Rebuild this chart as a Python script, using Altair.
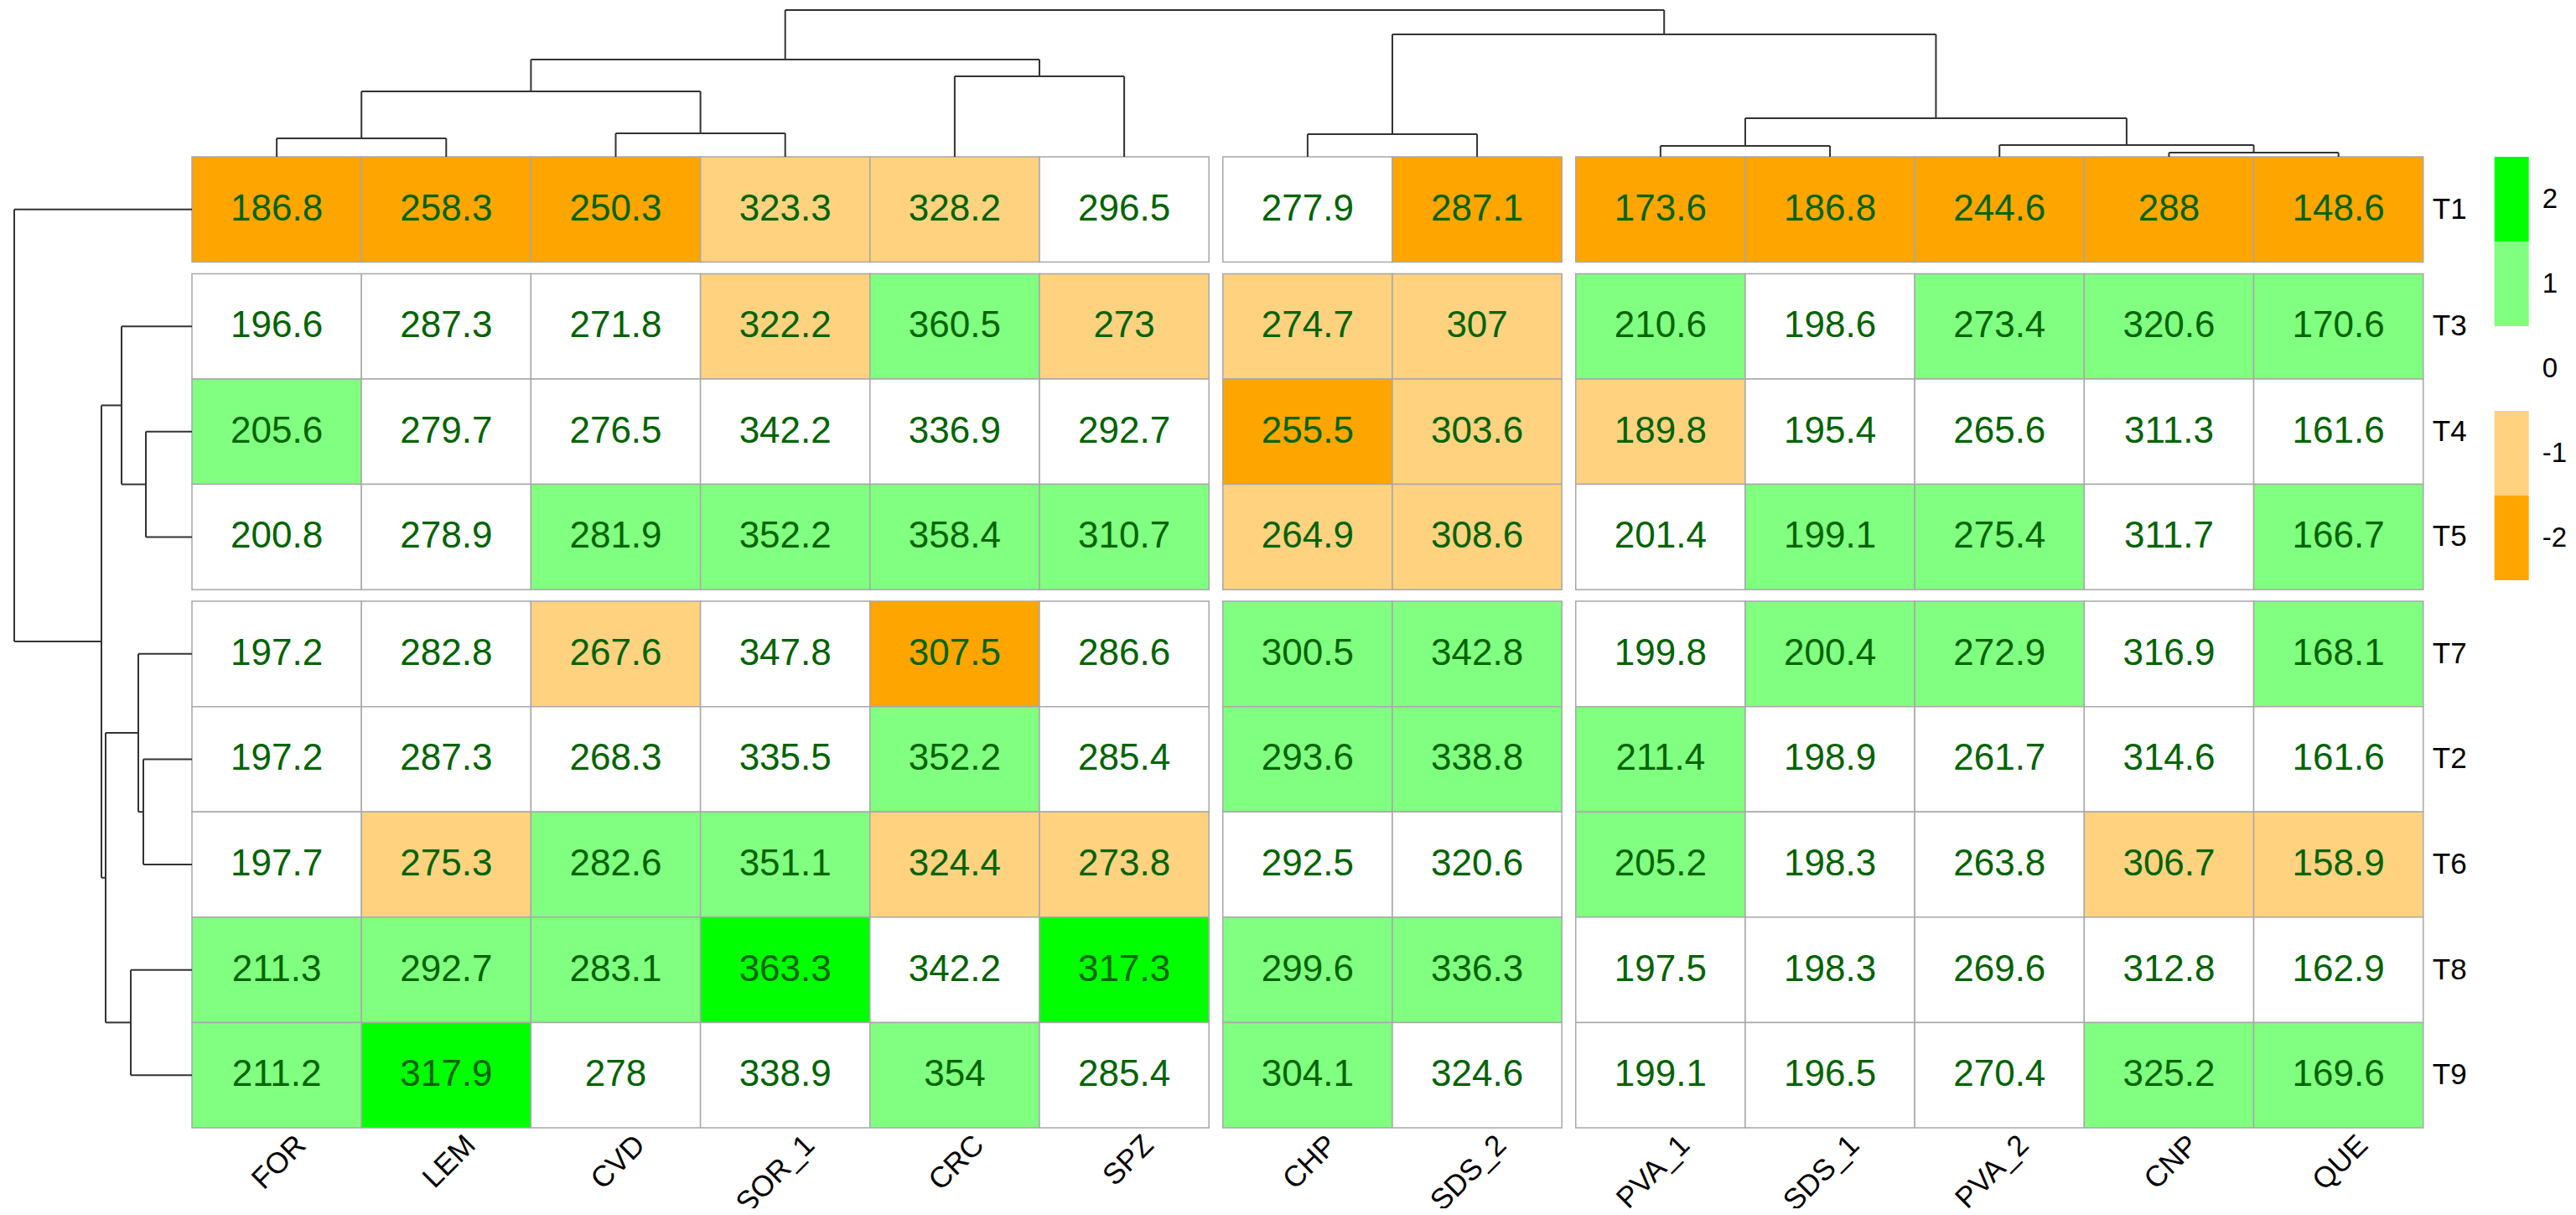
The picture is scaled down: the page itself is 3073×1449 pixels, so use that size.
import altair as alt
import pandas as pd

# ---------------- data ----------------
col_labels = ["FOR", "LEM", "CVD", "SOR_1", "CRC", "SPZ", "CHP", "SDS_2",
              "PVA_1", "SDS_1", "PVA_2", "CNP", "QUE"]
col_groups = [0, 0, 0, 0, 0, 0, 1, 1, 2, 2, 2, 2, 2]
row_labels = ["T1", "T3", "T4", "T5", "T7", "T2", "T6", "T8", "T9"]
row_groups = [0, 1, 1, 1, 2, 2, 2, 2, 2]

values = {
    "T1": [186.8, 258.3, 250.3, 323.3, 328.2, 296.5, 277.9, 287.1, 173.6, 186.8, 244.6, 288, 148.6],
    "T3": [196.6, 287.3, 271.8, 322.2, 360.5, 273, 274.7, 307, 210.6, 198.6, 273.4, 320.6, 170.6],
    "T4": [205.6, 279.7, 276.5, 342.2, 336.9, 292.7, 255.5, 303.6, 189.8, 195.4, 265.6, 311.3, 161.6],
    "T5": [200.8, 278.9, 281.9, 352.2, 358.4, 310.7, 264.9, 308.6, 201.4, 199.1, 275.4, 311.7, 166.7],
    "T7": [197.2, 282.8, 267.6, 347.8, 307.5, 286.6, 300.5, 342.8, 199.8, 200.4, 272.9, 316.9, 168.1],
    "T2": [197.2, 287.3, 268.3, 335.5, 352.2, 285.4, 293.6, 338.8, 211.4, 198.9, 261.7, 314.6, 161.6],
    "T6": [197.7, 275.3, 282.6, 351.1, 324.4, 273.8, 292.5, 320.6, 205.2, 198.3, 263.8, 306.7, 158.9],
    "T8": [211.3, 292.7, 283.1, 363.3, 342.2, 317.3, 299.6, 336.3, 197.5, 198.3, 269.6, 312.8, 162.9],
    "T9": [211.2, 317.9, 278, 338.9, 354, 285.4, 304.1, 324.6, 199.1, 196.5, 270.4, 325.2, 169.6],
}
levels = {
    "T1": [-2, -2, -2, -1, -1, 0, 0, -2, -2, -2, -2, -2, -2],
    "T3": [0, 0, 0, -1, 1, -1, -1, -1, 1, 0, 1, 1, 1],
    "T4": [1, 0, 0, 0, 0, 0, -2, -1, -1, 0, 0, 0, 0],
    "T5": [0, 0, 1, 1, 1, 1, -1, -1, 0, 1, 1, 0, 1],
    "T7": [0, 0, -1, 0, -2, 0, 1, 1, 0, 1, 1, 0, 1],
    "T2": [0, 0, 0, 0, 1, 0, 1, 1, 1, 0, 0, 0, 0],
    "T6": [0, -1, 1, 1, -1, -1, 0, 0, 1, 0, 0, -1, -1],
    "T8": [1, 1, 1, 2, 0, 2, 1, 1, 0, 0, 0, 0, 0],
    "T9": [1, 2, 0, 0, 1, 0, 1, 0, 0, 0, 0, 1, 1],
}

legend_levels = [2, 1, 0, -1, -2]
level_colors = ["#FFA500", "#FFD280", "#FFFFFF", "#80FF80", "#00FF00"]  # for -2..2

# dendrograms: (left, right, merge height)
col_tree = (((("FOR", "LEM", 22), ("CVD", "SOR_1", 28), 78), ("CRC", "SPZ", 96), 116),
            (("CHP", "SDS_2", 27),
             (("PVA_1", "SDS_1", 13), ("PVA_2", ("CNP", "QUE", 5), 14), 46), 146),
            175)
row_tree = ("T1",
            (("T3", ("T4", "T5", 55), 84),
             (("T7", ("T2", "T6", 58), 64), ("T8", "T9", 73), 103), 108),
            212)

# ---------------- layout ----------------
W, H = 3057, 1433
CELL_W, CELL_H = 202.2, 125.6
HEAT_LEFT, HEAT_TOP = 221, 179
GAP_X, GAP_Y = 0.082, 0.11

xs = alt.Scale(domain=[-HEAT_LEFT / CELL_W, (W - HEAT_LEFT) / CELL_W], nice=False, zero=False)
ys = alt.Scale(domain=[-HEAT_TOP / CELL_H, (H - HEAT_TOP) / CELL_H], nice=False, zero=False, reverse=True)

col_x0 = {c: j + GAP_X * g for j, (c, g) in enumerate(zip(col_labels, col_groups))}
row_y0 = {r: i + GAP_Y * g for i, (r, g) in enumerate(zip(row_labels, row_groups))}
heat_right = len(col_labels) + GAP_X * max(col_groups)
heat_bottom = len(row_labels) + GAP_Y * max(row_groups)

# cells
cells = []
for r in row_labels:
    for j, c in enumerate(col_labels):
        cells.append({
            "row": r, "col": c,
            "x": col_x0[c], "x2": col_x0[c] + 1,
            "y": row_y0[r], "y2": row_y0[r] + 1,
            "xc": col_x0[c] + 0.5, "yc": row_y0[r] + 0.5,
            "value": values[r][j], "level": levels[r][j],
            "label": f"{values[r][j]:g}",
        })
cells = pd.DataFrame(cells)


def X(f):
    return alt.X(f, type="quantitative", scale=xs, axis=None)


def Y(f):
    return alt.Y(f, type="quantitative", scale=ys, axis=None)


color = alt.Color("level:O", scale=alt.Scale(domain=[-2, -1, 0, 1, 2], range=level_colors), legend=None)

rects = alt.Chart(cells).mark_rect(stroke="#A8A8A8", strokeWidth=1.5).encode(
    x=X("x"), x2="x2", y=Y("y"), y2="y2", color=color
)
texts = alt.Chart(cells).mark_text(
    font="Liberation Sans", fontSize=44, color="#006400", align="center", baseline="middle"
).encode(x=X("xc"), y=Y("yc"), text="label:N")


# dendrogram segments
def build(node, leaf_pos, segs, orient, unit):
    if isinstance(node, str):
        return leaf_pos[node], 0.0
    a, b, h = node
    pa, ha = build(a, leaf_pos, segs, orient, unit)
    pb, hb = build(b, leaf_pos, segs, orient, unit)
    for p, hh in ((pa, ha), (pb, hb)):
        segs.append((p, -hh / unit, p, -h / unit))
    segs.append((pa, -h / unit, pb, -h / unit))
    return (pa + pb) / 2, h


col_segs = []
build(col_tree, {c: col_x0[c] + 0.5 for c in col_labels}, col_segs, "top", CELL_H)
col_df = pd.DataFrame(col_segs, columns=["x", "y", "x2", "y2"])

row_segs = []
build(row_tree, {r: row_y0[r] + 0.5 for r in row_labels}, row_segs, "left", CELL_W)
row_df = pd.DataFrame([(s[1], s[0], s[3], s[2]) for s in row_segs], columns=["x", "y", "x2", "y2"])

col_dend = alt.Chart(col_df).mark_rule(color="#333333", strokeWidth=2).encode(
    x=X("x"), y=Y("y"), x2="x2", y2="y2")
row_dend = alt.Chart(row_df).mark_rule(color="#333333", strokeWidth=2).encode(
    x=X("x"), y=Y("y"), x2="x2", y2="y2")

# labels
col_lab_df = pd.DataFrame({"col": col_labels,
                           "x": [col_x0[c] + 0.5 for c in col_labels],
                           "y": [heat_bottom] * len(col_labels)})
col_lab = alt.Chart(col_lab_df).mark_text(
    font="Liberation Sans", fontSize=35, color="black", angle=315,
    align="right", baseline="top", dx=10, dy=14
).encode(x=X("x"), y=Y("y"), text="col:N")

row_lab_df = pd.DataFrame({"row": row_labels,
                           "x": [heat_right] * len(row_labels),
                           "y": [row_y0[r] + 0.5 for r in row_labels]})
row_lab = alt.Chart(row_lab_df).mark_text(
    font="Liberation Sans", fontSize=35, color="black", align="left", baseline="middle", dx=11
).encode(x=X("x"), y=Y("y"), text="row:N")

# legend
LEG_X0 = heat_right + 0.42
LEG_W = 41 / CELL_W
LEG_H = 101 / CELL_H
leg_df = pd.DataFrame({
    "level": legend_levels,
    "x": [LEG_X0] * 5, "x2": [LEG_X0 + LEG_W] * 5,
    "y": [i * LEG_H for i in range(5)], "y2": [(i + 1) * LEG_H for i in range(5)],
    "yc": [(i + 0.5) * LEG_H for i in range(5)],
    "label": [str(v) for v in legend_levels],
})
leg_rect = alt.Chart(leg_df).mark_rect().encode(
    x=X("x"), x2="x2", y=Y("y"), y2="y2", color=color)
leg_text = alt.Chart(leg_df).mark_text(
    font="Liberation Sans", fontSize=33, color="black", align="left", baseline="middle", dx=16
).encode(x=X("x2"), y=Y("yc"), text="label:N")

chart = alt.layer(rects, texts, col_dend, row_dend, col_lab, row_lab, leg_rect, leg_text).properties(
    width=W, height=H, padding=0, autosize=alt.AutoSizeParams(type="none")
).configure_view(stroke=None)

chart.save("out.html", embed_options={"renderer": "svg", "actions": False})
